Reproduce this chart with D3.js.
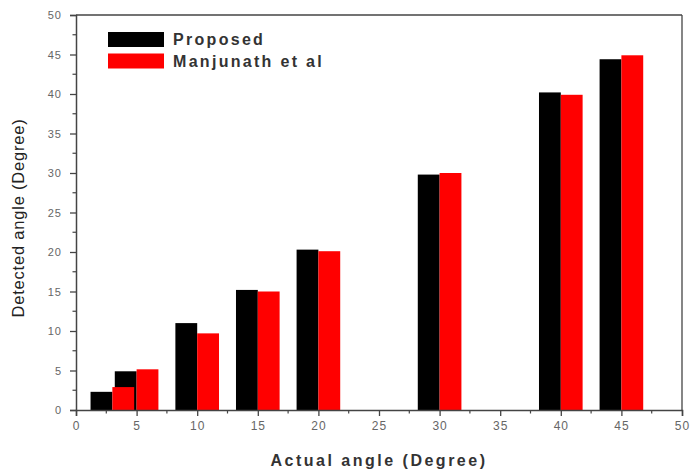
<!DOCTYPE html>
<html>
<head>
<meta charset="utf-8">
<script src="https://cdn.jsdelivr.net/npm/d3@7"></script>
<style>
  body { margin: 0; background: #fff; }
  svg { display: block; }
  text { font-family: "Liberation Sans", Arial, sans-serif; }
</style>
</head>
<body>
<svg id="chart" width="690" height="471"></svg>
<script>
// Data
const actualAngles = [3, 5, 10, 15, 20, 30, 40, 45];
const proposed     = [2.3, 4.9, 11.0, 15.2, 20.3, 29.8, 40.2, 44.4];
const manjunath    = [2.9, 5.15, 9.7, 15.0, 20.1, 30.0, 39.9, 44.9];
const seriesNames  = ["Proposed", "Manjunath et al"];
const seriesColors = ["#000000", "#ff0000"];
const xTicks = [0, 5, 10, 15, 20, 25, 30, 35, 40, 45, 50];
const yTicks = [0, 5, 10, 15, 20, 25, 30, 35, 40, 45, 50];
const barWidthUnits = 1.8;

(function () {
const svg = d3.select("#chart");
const mLeft = 76, mRight = 682, mTop = 15, mBottom = 410;

const x = d3.scaleLinear().domain([0, 50]).range([mLeft, mRight]);
const y = d3.scaleLinear().domain([0, 50]).range([mBottom, mTop]);

// Bars: black drawn first, red on top
const series = [proposed, manjunath];
series.forEach((vals, si) => {
  svg.append("g").selectAll("rect")
    .data(actualAngles.map((a, i) => ({a, v: vals[i]})))
    .join("rect")
    .attr("x", d => si === 0 ? x(d.a - barWidthUnits) : x(d.a))
    .attr("width", d => x(barWidthUnits) - x(0))
    .attr("y", d => y(d.v))
    .attr("height", d => y(0) - y(d.v))
    .attr("fill", seriesColors[si]);
});

const axisColor = "#444";
const labelColor = "#666";

// Frame (top and right)
svg.append("line").attr("x1", mLeft).attr("x2", mRight).attr("y1", mTop).attr("y2", mTop)
  .attr("stroke", axisColor).attr("stroke-width", 1.3);
svg.append("line").attr("x1", mRight).attr("x2", mRight).attr("y1", mTop).attr("y2", mBottom)
  .attr("stroke", axisColor).attr("stroke-width", 1.3);

// X axis
const xAxis = svg.append("g").attr("transform", `translate(0,${mBottom})`)
  .call(d3.axisBottom(x).tickValues(xTicks).tickSize(6).tickPadding(5).tickFormat(d3.format("d")));
xAxis.select(".domain").attr("stroke", axisColor).attr("stroke-width", 1.5);
xAxis.selectAll(".tick line").attr("stroke", axisColor).attr("stroke-width", 1.3);
xAxis.selectAll(".tick text").attr("fill", labelColor).attr("font-size", 12)
  .attr("letter-spacing", "1px").attr("font-family", "Liberation Sans, Arial, sans-serif");
const xMinor = d3.range(2.5, 50, 5);
svg.append("g").selectAll("line").data(xMinor).join("line")
  .attr("x1", d => x(d)).attr("x2", d => x(d)).attr("y1", mBottom).attr("y2", mBottom + 3.5)
  .attr("stroke", axisColor).attr("stroke-width", 1.2);

// Y axis
const yAxis = svg.append("g").attr("transform", `translate(${mLeft},0)`)
  .call(d3.axisLeft(y).tickValues(yTicks).tickSize(6).tickPadding(8).tickFormat(d3.format("d")));
yAxis.select(".domain").attr("stroke", axisColor).attr("stroke-width", 1.5);
yAxis.selectAll(".tick line").attr("stroke", axisColor).attr("stroke-width", 1.3);
yAxis.selectAll(".tick text").attr("fill", labelColor).attr("font-size", 11)
  .attr("letter-spacing", "1px").attr("font-family", "Liberation Sans, Arial, sans-serif");
const yMinor = d3.range(2.5, 50, 5);
svg.append("g").selectAll("line").data(yMinor).join("line")
  .attr("x1", mLeft - 3.5).attr("x2", mLeft).attr("y1", d => y(d)).attr("y2", d => y(d))
  .attr("stroke", axisColor).attr("stroke-width", 1.2);

// Axis titles
svg.append("text").attr("x", 379).attr("y", 466).attr("text-anchor", "middle")
  .attr("font-size", 16).attr("font-weight", "bold").attr("letter-spacing", "2.5px")
  .attr("fill", "#333").text("Actual angle (Degree)");
svg.append("text").attr("transform", "translate(24,218) rotate(-90)")
  .attr("text-anchor", "middle").attr("font-size", 16.5).attr("letter-spacing", "0.8px")
  .attr("fill", "#222")
  .text("Detected angle (Degree)");

// Legend
const legend = svg.append("g");
seriesNames.forEach((name, i) => {
  const ly = 32 + i * 21.5;
  legend.append("rect").attr("x", 108).attr("y", ly).attr("width", 56).attr("height", 15)
    .attr("fill", seriesColors[i]);
  legend.append("text").attr("x", 173).attr("y", ly + 13)
    .attr("font-size", 16).attr("font-weight", "bold").attr("letter-spacing", "2.3px")
    .attr("fill", "#333").text(name);
});
})();
</script>
</body>
</html>
